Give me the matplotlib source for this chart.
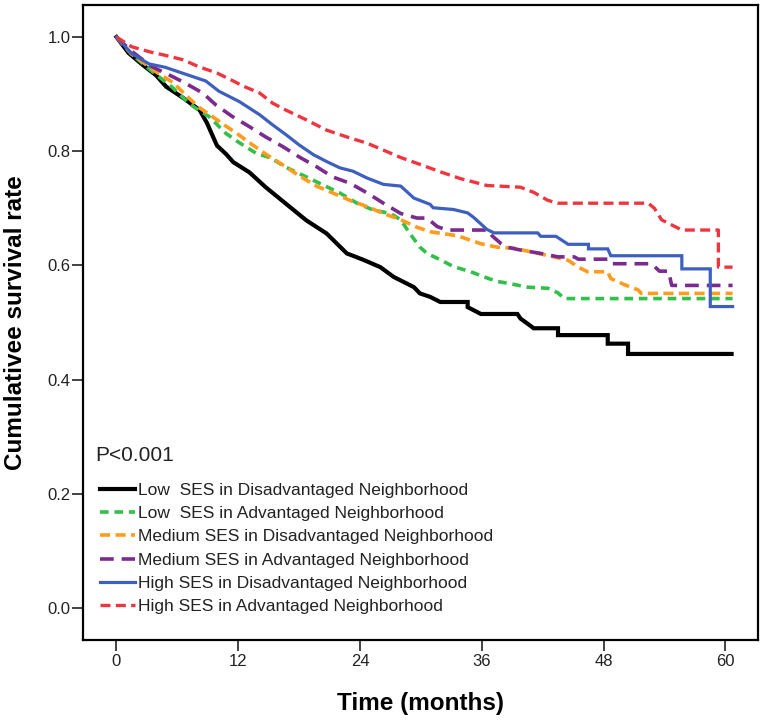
import matplotlib
matplotlib.use("Agg")
import matplotlib.pyplot as plt

plt.rcParams['font.family'] = ['Liberation Sans', 'DejaVu Sans']

# ---- data (time in months, cumulative survival); repeated times mark vertical drops ----
labels = [
    "Low  SES in Disadvantaged Neighborhood",
    "Low  SES in Advantaged Neighborhood",
    "Medium SES in Disadvantaged Neighborhood",
    "Medium SES in Advantaged Neighborhood",
    "High SES in Disadvantaged Neighborhood",
    "High SES in Advantaged Neighborhood",
]

low_dis_t = [0, 1.2, 2.6, 3.9, 4.9, 6.6, 8.2, 8.9, 9.9, 10.8, 11.5, 13.1, 14.7, 16.7, 18.7, 20.7,
             22.7, 24.3, 26.0, 27.3, 29.3, 29.9, 30.9, 31.9, 34.6, 34.6, 35.9, 39.5, 39.8, 40.5,
             41.1, 43.5, 43.5, 48.4, 48.4, 50.4, 50.4, 60.6]
low_dis_s = [1.0, 0.972, 0.951, 0.933, 0.913, 0.893, 0.872, 0.850, 0.810, 0.795, 0.781, 0.763,
             0.737, 0.708, 0.679, 0.656, 0.621, 0.610, 0.597, 0.580, 0.562, 0.551, 0.545, 0.536,
             0.536, 0.527, 0.515, 0.515, 0.507, 0.498, 0.490, 0.490, 0.478, 0.478, 0.463, 0.463,
             0.445, 0.445]

low_adv_t = [0, 1.5, 3.5, 5.5, 7.2, 8.1, 9.1, 10.8, 12.1, 13.8, 15.1, 16.7, 18.7, 20.7, 22.0, 23.7,
             25.3, 27.0, 28.0, 28.9, 29.9, 30.6, 31.9, 33.2, 34.9, 36.2, 37.5, 38.5, 40.5, 42.5, 43.5,
             44.1, 60.7]
low_adv_s = [1.0, 0.970, 0.940, 0.912, 0.883, 0.872, 0.861, 0.831, 0.815, 0.796, 0.789, 0.772, 0.755,
             0.738, 0.727, 0.709, 0.697, 0.691, 0.680, 0.656, 0.632, 0.621, 0.610, 0.598, 0.589, 0.580,
             0.572, 0.569, 0.562, 0.560, 0.552, 0.542, 0.542]

med_dis_t = [0, 1.5, 3.9, 5.6, 6.9, 8.2, 9.5, 10.7, 11.8, 13.1, 14.7, 16.4, 18.0, 19.7, 21.3, 23.0,
             24.7, 26.3, 28.0, 29.6, 30.9, 33.6, 34.9, 35.9, 37.5, 39.2, 40.8, 43.1, 44.5, 45.5, 46.4,
             48.4, 48.7, 50.1, 51.4, 51.7, 60.7]
med_dis_s = [1.0, 0.970, 0.939, 0.920, 0.897, 0.876, 0.860, 0.845, 0.832, 0.815, 0.795, 0.776, 0.757,
             0.739, 0.727, 0.714, 0.703, 0.691, 0.680, 0.667, 0.659, 0.652, 0.644, 0.638, 0.632, 0.630,
             0.624, 0.615, 0.609, 0.597, 0.589, 0.589, 0.577, 0.566, 0.557, 0.551, 0.551]

med_adv_t = [0, 1.5, 3.5, 4.8, 6.5, 8.5, 9.8, 11.4, 13.1, 14.7, 16.4, 18.0, 19.7, 21.3, 23.0, 24.7,
             26.3, 28.0, 29.6, 30.6, 31.6, 32.6, 36.6, 37.0, 37.9, 38.5, 39.8, 41.8, 43.5, 45.1, 45.5,
             48.4, 48.7, 52.7, 53.5, 54.4, 54.7, 60.7]
med_adv_s = [1.0, 0.975, 0.948, 0.937, 0.922, 0.902, 0.881, 0.861, 0.843, 0.825, 0.808, 0.790, 0.773,
             0.755, 0.744, 0.727, 0.709, 0.691, 0.683, 0.683, 0.668, 0.662, 0.662, 0.652, 0.638, 0.632,
             0.627, 0.621, 0.615, 0.615, 0.611, 0.611, 0.603, 0.603, 0.590, 0.590, 0.565, 0.565]

high_dis_t = [0, 1.5, 3.2, 4.8, 6.8, 8.8, 10.1, 12.1, 14.1, 15.4, 16.7, 18.0, 19.4, 20.7, 22.0, 23.3,
              24.7, 26.3, 28.0, 29.3, 30.9, 31.2, 33.2, 34.6, 35.2, 36.5, 37.2, 41.5, 41.8, 43.3, 44.5,
              46.5, 46.5, 48.4, 48.7, 55.7, 55.7, 58.5, 58.5, 60.7]
high_dis_s = [1.0, 0.971, 0.953, 0.947, 0.935, 0.923, 0.905, 0.887, 0.864, 0.846, 0.829, 0.811, 0.794,
              0.782, 0.771, 0.765, 0.753, 0.742, 0.739, 0.718, 0.707, 0.701, 0.698, 0.692, 0.684, 0.663,
              0.657, 0.657, 0.651, 0.651, 0.637, 0.637, 0.629, 0.629, 0.617, 0.617, 0.594, 0.594, 0.528,
              0.528]

high_adv_t = [0, 1.5, 3.3, 4.8, 6.6, 8.1, 9.9, 11.4, 12.5, 14.1, 15.4, 16.7, 18.7, 20.7, 22.7, 24.7,
              26.3, 28.0, 29.9, 31.9, 33.9, 36.5, 39.8, 41.1, 42.5, 43.5, 52.4, 53.0, 53.7, 55.7, 59.3,
              59.3, 60.7]
high_adv_s = [1.0, 0.983, 0.974, 0.968, 0.960, 0.948, 0.937, 0.924, 0.914, 0.902, 0.884, 0.872, 0.855,
              0.837, 0.825, 0.814, 0.802, 0.789, 0.777, 0.764, 0.752, 0.740, 0.737, 0.728, 0.714, 0.709,
              0.709, 0.700, 0.680, 0.662, 0.662, 0.597, 0.597]

x_ticks = [0, 12, 24, 36, 48, 60]
y_ticks = [0.0, 0.2, 0.4, 0.6, 0.8, 1.0]

series = [
    (low_dis_t, low_dis_s, dict(color="#000000", lw=3.0, ls="-")),
    (low_adv_t, low_adv_s, dict(color="#33c04a", lw=2.6, ls=(0, (2.4, 1.6)))),
    (med_dis_t, med_dis_s, dict(color="#ff9c1e", lw=2.6, ls=(0, (2.8, 1.5)))),
    (med_adv_t, med_adv_s, dict(color="#7b2a8e", lw=2.6, ls=(0, (3.8, 2.2)))),
    (high_dis_t, high_dis_s, dict(color="#3d5fbf", lw=2.3, ls="-")),
    (high_adv_t, high_adv_s, dict(color="#ef3540", lw=2.4, ls=(0, (3.0, 1.6)))),
]

fig = plt.figure(figsize=(7.64, 7.24), dpi=100)
ax = fig.add_axes([0.1086, 0.116, 0.8835, 0.877])

for (t, s, st), lab in zip(series, labels):
    ax.plot(t, s, label=lab, solid_joinstyle="miter", **st)

ax.set_xlim(-3.3, 63.2)
ax.set_ylim(-0.056, 1.056)
ax.set_xticks(x_ticks)
ax.set_xticklabels([str(v) for v in x_ticks])
ax.set_yticks(y_ticks)
ax.set_yticklabels([f"{v:.1f}" for v in y_ticks])
for sp in ax.spines.values():
    sp.set_linewidth(1.6)
ax.tick_params(axis="both", direction="out", length=8, width=1.2, labelsize=12, colors="#222222")
ax.tick_params(axis="y", pad=1)
ax.tick_params(axis="x", pad=2)

ax.set_xlabel("Time (months)", fontsize=17.5, fontweight="bold")
ax.set_ylabel("Cumulativee survival rate", fontsize=17.5, fontweight="bold")
ax.xaxis.set_label_coords(0.5, -0.082)
ax.yaxis.set_label_coords(-0.083, 0.5)

ax.text(0.018, 0.290, "P<0.001", transform=ax.transAxes, fontsize=15, va="center", ha="left",
        color="#222222")
leg = ax.legend(loc="upper left", bbox_to_anchor=(0.025, 0.248), frameon=False, fontsize=12.5,
                handlelength=2.0, handletextpad=0.2, labelspacing=0.47, borderaxespad=0.0,
                borderpad=0.0)
for txt in leg.get_texts():
    txt.set_color("#222222")

fig.savefig("out.png", dpi=100)
